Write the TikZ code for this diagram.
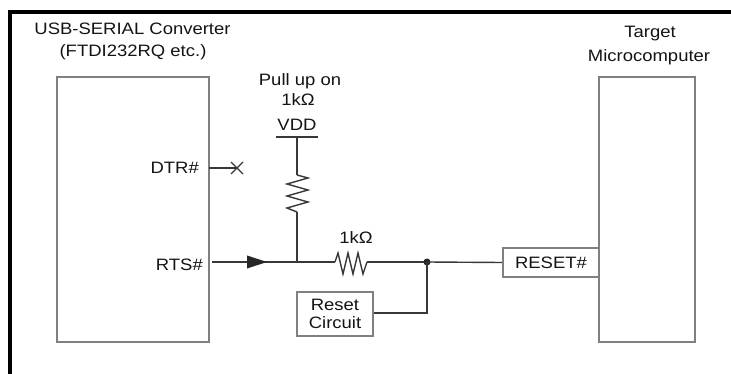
\documentclass[tikz,border=0pt]{standalone}
\usepackage{fontspec}
\setmainfont{Liberation Sans}[FakeStretch=1.12]
\usetikzlibrary{calc}
\begin{document}
\begin{tikzpicture}[x=1pt,y=-1pt,
  every node/.style={font=\fontsize{16.5}{19}\selectfont, text=black!92, inner sep=0pt},
  box/.style={draw=black!50, line width=1.8pt, fill=none},
  wire/.style={draw=black!78, line width=1.4pt},
  frame/.style={draw=black, line width=4pt}]
\useasboundingbox (0,0) rectangle (731,374);
% outer frame (only top and left visible)
\coordinate (fbl) at (9.5,374);
\coordinate (ftl) at (9.5,12);
\coordinate (ftr) at (731,12);
\draw[frame] (fbl) -- (ftl) -- (ftr);

% boxes
\node[box, minimum width=152pt, minimum height=265pt] (usb) at (133,209.5) {};
\node[box, minimum width=96pt, minimum height=265pt] (mcu) at (647,209.5) {};
\node[box, minimum width=96pt, minimum height=29pt] (rst) at (551,262.5) {RESET\#};
\node[box, minimum width=76pt, minimum height=44pt, align=center] (rc) at (335,314) {Reset\\[-0.5pt]Circuit};

% titles
\node (usbt) at (132.5,29) {USB-SERIAL Converter};
\node (ftdi) at (133,52) {(FTDI232RQ etc.)};
\node (tgt) at (650,34) {Target};
\node (micro) at (649,57) {Microcomputer};
\node (pull) at (300,81) {Pull up on};
\node (k1) at (298,100) {1kΩ};
\node (vdd) at (297,125) {VDD};
\node (k1b) at (356,238) {1kΩ};
\node[anchor=east] (dtr) at (199,168) {DTR\#};
\node[anchor=east] (rts) at (203,265) {RTS\#};

% coordinates
\coordinate (vddl) at (276,137);
\coordinate (vddr) at (318,137);
\coordinate (vddc) at (297,137);
\coordinate (r1t) at (297,175);
\coordinate (r1b) at (297,212);
\coordinate (j1) at (297,262);
\coordinate (rtss) at (212,262);
\coordinate (tipb) at (247,262);
\coordinate (tip) at (267,262);
\coordinate (r2a) at (335,262);
\coordinate (r2b) at (367,262);
\coordinate (dot) at (427,262);
\coordinate (dotd) at (427,313);
\coordinate (rce) at (rc.east |- dotd);
\coordinate (dtrs) at (209,168);
\coordinate (xm) at (237,168);

% VDD bar and pull-up
\draw[wire] (vddl) -- (vddr);
\draw[wire] (vddc) -- (r1t);
\draw[wire, line join=miter] (r1t) -- ++(11,3) -- ++(-21,6) -- ++(21,6) -- ++(-21,6) -- ++(21,6) -- ++(-21,6) -- (r1b);
\draw[wire] (r1b) -- (j1);

% RTS line
\draw[wire] (rtss) -- (r2a);
\fill[black!85] ($(tipb)+(0,-6.5)$) -- (tip) -- ($(tipb)+(0,6.5)$) -- cycle;
\draw[wire, line join=miter] (r2a) -- ++(3,-9) -- ++(5,21) -- ++(5,-21) -- ++(5,21) -- ++(5,-21) -- ++(5,21) -- (r2b);
\draw[wire] (r2b) -- (dot);
\fill[black!85] (dot) circle (3.5pt);
\draw[wire] (dot) -- (rst.west);
\draw[wire] (dot) -- (dotd) -- (rce);

% DTR
\draw[wire] (dtrs) -- (xm);
\draw[wire, line width=1.2pt] ($(xm)+(-6,-6)$) -- ($(xm)+(6,6)$);
\draw[wire, line width=1.2pt] ($(xm)+(-6,6)$) -- ($(xm)+(6,-6)$);
\end{tikzpicture}
\end{document}
